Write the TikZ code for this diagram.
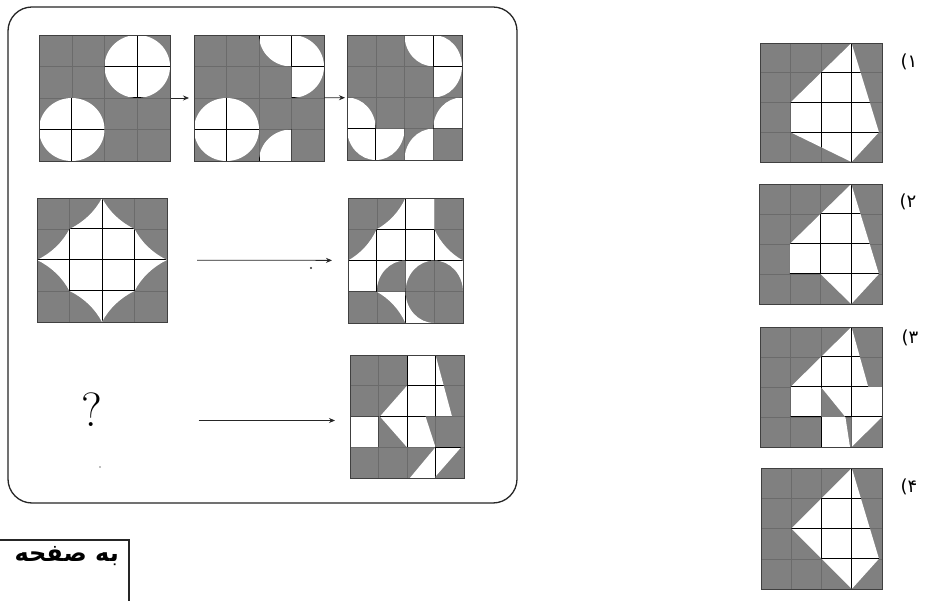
\documentclass[tikz,border=0pt]{standalone}
\usepackage{fontspec}
\usetikzlibrary{arrows.meta}
\TeXXeTstate=1
\newfontfamily\arabicfont[Script=Arabic]{DejaVu Sans}
\newfontfamily\plainsans{DejaVu Sans}
\definecolor{shadegray}{gray}{0.5}
\definecolor{faintline}{gray}{0.42}
\tikzset{
  sqnode/.style={draw=none, inner sep=0pt, outer sep=0pt},
  faintgrid/.style={draw=faintline, line width=0.5pt},
  gridline/.style={draw=black, line width=1pt},
  sqframe/.style={draw=black!75, line width=0.9pt},
  arr/.style={-{Stealth[length=6pt,width=5pt]}, line width=0.8pt, draw=black!85},
  optlabel/.style={font=\plainsans\fontsize{18}{20}\selectfont, inner sep=1pt},
  outerbox/.style={draw=black!85, line width=1.3pt, rounded corners=24pt}
}
\def\ra{2.2361}
\newcommand{\tilesq}[6]{%
  \node[sqnode, minimum width=#4pt, minimum height=#5pt, anchor=south west] (#1) at (#2,#3) {};
  \pgfmathsetmacro\tcw{#4/4}\pgfmathsetmacro\tch{#5/4}%
  \begin{scope}[shift={(#2,#3)}, x=\tcw pt, y=\tch pt]
    \fill[shadegray] (0,0) rectangle (4,4);
    \foreach \i in {1,2,3} {\draw[faintgrid] (\i,0) -- (\i,4); \draw[faintgrid] (0,\i) -- (4,\i);}
    \fill[white] #6;
    \begin{scope}
      \clip #6;
      \foreach \i in {1,2,3} {\draw[gridline] (\i,0) -- (\i,4); \draw[gridline] (0,\i) -- (4,\i);}
    \end{scope}
    \draw[sqframe] (0,0) rectangle (4,4);
  \end{scope}}
\begin{document}
\begin{tikzpicture}[x=1pt,y=1pt]
\useasboundingbox (0,0) rectangle (934,600);
\fill[white] (0,0) rectangle (934,600);

% outer rounded frame
\draw[outerbox] (8,97) rectangle (517,593);

% ---- top row
\tilesq{a1}{39}{439}{131}{126}{(3,3) circle[radius=1] (1,1) circle[radius=1]}
\tilesq{a2}{194}{439}{130}{126}{%
  (3,4) -- (2,4) arc[start angle=180, end angle=270, radius=1] -- cycle
  (3,3) -- (3,2) arc[start angle=-90, end angle=90, radius=1] -- cycle
  (3,0) -- (3,1) arc[start angle=90, end angle=180, radius=1] -- cycle
  (1,1) circle[radius=1]}
\tilesq{a3}{347}{440}{115}{125}{%
  (3,4) -- (2,4) arc[start angle=180, end angle=270, radius=1] -- cycle
  (3,3) -- (3,2) arc[start angle=-90, end angle=90, radius=1] -- cycle
  (4,1) -- (4,2) arc[start angle=90, end angle=180, radius=1] -- cycle
  (3,0) -- (3,1) arc[start angle=90, end angle=180, radius=1] -- cycle
  (0,1) -- (1,1) arc[start angle=0, end angle=90, radius=1] -- cycle
  (1,1) -- (0,1) arc[start angle=180, end angle=360, radius=1] -- cycle}
\draw[arr, shorten <=1pt, shorten >=5pt] (a1) -- (a2);
\draw[arr, shorten <=0pt, shorten >=2pt] (a2) -- (a3);

% ---- middle row
\tilesq{b1}{37}{278}{130}{124}{%
  (2,4) arc[start angle=206.565, end angle=243.435, radius=\ra]
        arc[start angle=206.565, end angle=243.435, radius=\ra]
        arc[start angle=116.565, end angle=153.435, radius=\ra]
        arc[start angle=116.565, end angle=153.435, radius=\ra]
        arc[start angle=26.565, end angle=63.435, radius=\ra]
        arc[start angle=26.565, end angle=63.435, radius=\ra]
        arc[start angle=-63.435, end angle=-26.565, radius=\ra]
        arc[start angle=-63.435, end angle=-26.565, radius=\ra] -- cycle}
\tilesq{b2}{348}{277}{115}{125}{%
  (1,3) -- (2,3) -- (2,4) arc[start angle=-26.565, end angle=-63.435, radius=\ra] -- cycle
  (2,3) rectangle (3,4)
  (0,2) -- (1,2) -- (1,3) arc[start angle=-26.565, end angle=-63.435, radius=\ra] -- cycle
  (1,2) rectangle (3,3)
  (3,3) -- (3,2) -- (4,2) arc[start angle=243.435, end angle=206.565, radius=\ra] -- cycle
  (0,1) rectangle (1,2)
  (1,1) -- (1,2) -- (2,2) arc[start angle=90, end angle=180, radius=1] -- cycle
  (2,1) -- (2,2) -- (3,2) arc[start angle=90, end angle=180, radius=1] -- cycle
  (4,1) -- (4,2) -- (3,2) arc[start angle=90, end angle=0, radius=1] -- cycle
  (1,1) -- (2,1) -- (2,0) arc[start angle=26.565, end angle=63.435, radius=\ra] -- cycle
  (2,1) -- (2,0) -- (3,0) arc[start angle=270, end angle=180, radius=1] -- cycle}
\draw[arr, shorten <=30pt, shorten >=16pt] (b1) -- (b2);
\fill[black!80] (311,332) circle[radius=1.1];

% ---- bottom row
\node[font=\fontsize{48}{50}\selectfont, inner sep=0pt] (q) at (92,190) {?};
\tilesq{c2}{350}{122}{114}{123}{%
  (2,4) -- (3,4) -- (3.58,2) -- (2.65,2) -- (3,1) -- (2,1) -- (1.05,2) -- (2,3) -- cycle
  (0,1) rectangle (1,2)
  (3,1) -- (3,0) -- (2.1,0) -- cycle
  (3,1) -- (3.9,1) -- (3,0.05) -- cycle}
\coordinate (qs) at ([xshift=96pt, yshift=-4pt]q.east |- c2.west);
\draw[arr, shorten >=15pt] (qs) -- ([yshift=-4pt]c2.west);
\fill[black!50] (100,133) circle[radius=0.8];

% ---- options
\tilesq{o1}{760}{438}{122}{119}{(3,4) -- (3.9,1) -- (3,0) -- (1,1) -- (1,2) -- cycle}
\tilesq{o2}{759}{296}{123}{120}{(3,4) -- (3.9,1) -- (3,0) -- (2,1) -- (1,1) -- (1,2) -- cycle}
\tilesq{o3}{760}{153}{122}{120}{%
  (3,4) -- (3.55,2) -- (4,2) -- (4,1) -- (2.8,1) -- (2,2) -- (2,1) -- (1,1) -- (1,2) -- cycle
  (3,1) -- (4,1) -- (3,0) -- cycle
  (2,1) -- (2.8,1) -- (2.95,0) -- (2,0) -- cycle}
\tilesq{o4}{761}{11}{121}{121}{(3,4) -- (3.9,1) -- (3,0) -- (1,2) -- cycle}
\node[optlabel] (l1) at (909,538) {(۱};
\node[optlabel] (l2) at (908,398) {(۲};
\node[optlabel] (l3) at (910,262) {(۳};
\node[optlabel] (l4) at (909,113) {(۴};

% ---- bottom-left box
\draw[line width=1.2pt, draw=black!85] (-5,60) -- (129,60) -- (129,-5);
\node[font=\arabicfont\bfseries\fontsize{24}{28}\selectfont, anchor=east, inner sep=0pt] (next) at (119,44) {\beginR به صفحه\endR};
\end{tikzpicture}
\end{document}
